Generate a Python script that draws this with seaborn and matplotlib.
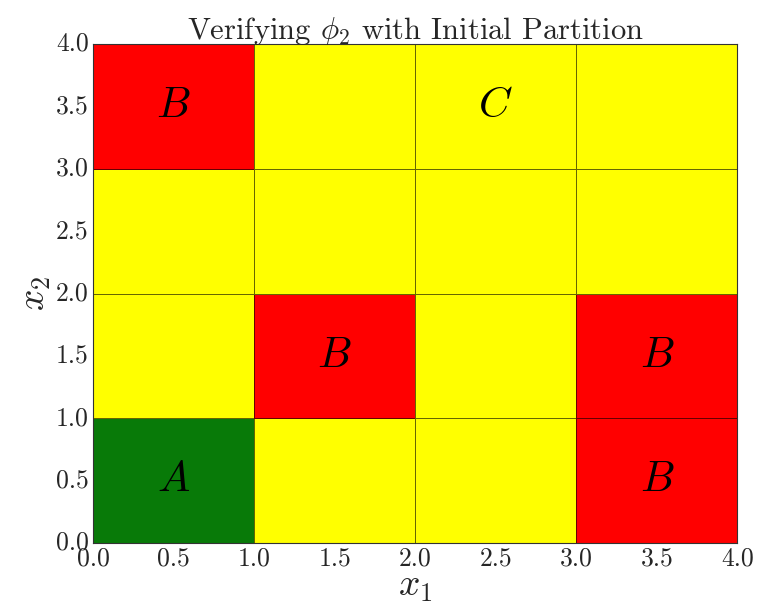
import numpy as np
import pandas as pd
import matplotlib
matplotlib.use("Agg")
import matplotlib.pyplot as plt
import seaborn as sns
from matplotlib.colors import ListedColormap

# Partition cells, rows go from x2 = 0..1 (bottom) up to x2 = 3..4 (top)
# 0 = green (A), 1 = red (B), 2 = yellow
cells = [
    [0, 2, 2, 1],
    [2, 1, 2, 1],
    [2, 2, 2, 2],
    [1, 2, 2, 2],
]
labels = [
    ["$A$", "", "", "$B$"],
    ["", "$B$", "", "$B$"],
    ["", "", "", ""],
    ["$B$", "", "$C$", ""],
]
colors = ["#087a08", "#ff0000", "#ffff00"]
ticks = [0.0, 0.5, 1.0, 1.5, 2.0, 2.5, 3.0, 3.5, 4.0]

sns.set_style("ticks")
plt.rcParams["font.family"] = ["cmr10", "DejaVu Serif"]
plt.rcParams["mathtext.fontset"] = "cm"
plt.rcParams["axes.formatter.use_mathtext"] = True

fig = plt.figure(figsize=(7.58, 6.04), dpi=100)
ax = fig.add_axes([0.1227, 0.101, 0.85, 0.826])

df = pd.DataFrame(cells)
sns.heatmap(df, ax=ax, cmap=ListedColormap(colors), vmin=-0.5, vmax=2.5,
            cbar=False, linewidths=0.7, linecolor=(0, 0, 0, 0.6),
            annot=np.array(labels), fmt="", square=False,
            annot_kws={"fontsize": 31, "color": "black"})
ax.invert_yaxis()

ax.set_xticks(ticks)
ax.set_yticks(ticks)
ax.set_xticklabels([f"{t:.1f}" for t in ticks], rotation=0)
ax.set_yticklabels([f"{t:.1f}" for t in ticks], rotation=0)
ax.tick_params(direction="in", length=4, width=0.6, labelsize=18.5,
               top=True, right=True, color="#333333", pad=3)
ax.set_xlim(0, 4)
ax.set_ylim(0, 4)
for s in ax.spines.values():
    s.set_visible(True)
    s.set_linewidth(0.8)
    s.set_color("#333333")

ax.set_title(r"Verifying $\phi_2$ with Initial Partition", fontsize=22, pad=4)
ax.set_xlabel("$x_1$", fontsize=27, labelpad=0)
ax.set_ylabel("$x_2$", fontsize=27, labelpad=2)

fig.savefig("out.png", dpi=100)
